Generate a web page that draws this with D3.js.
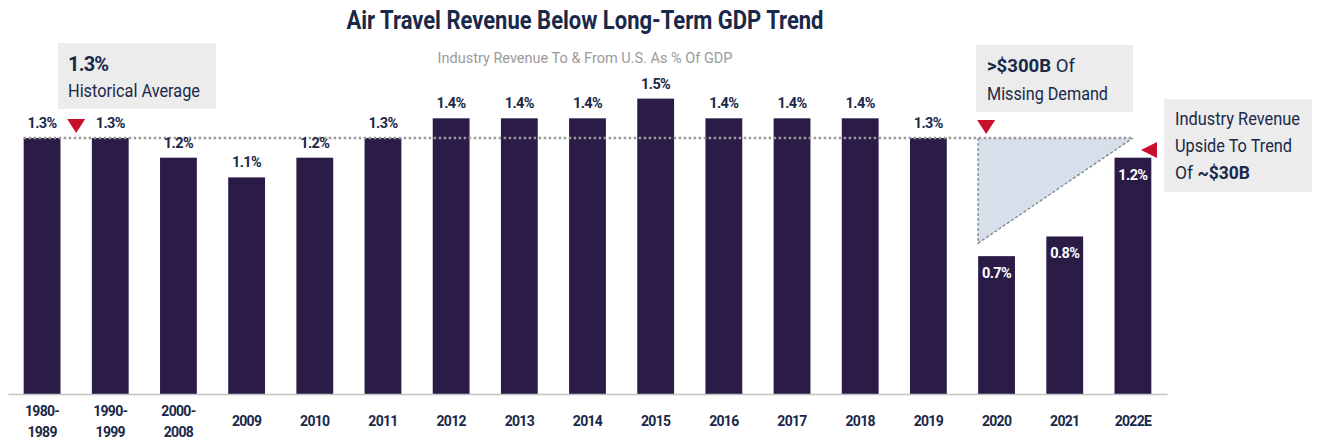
<!DOCTYPE html>
<html>
<head>
<meta charset="utf-8">
<script src="https://cdn.jsdelivr.net/npm/d3@7"></script>
<style>
  body { margin: 0; background: #fff; }
  svg { display: block; }
  text { font-family: Roboto, "Liberation Sans", sans-serif; }
</style>
</head>
<body>
<svg id="chart" width="1323" height="441"></svg>
<script>
// Air travel industry revenue to & from the U.S. as a share of GDP
const categories = ["1980-1989", "1990-1999", "2000-2008", "2009", "2010", "2011", "2012", "2013",
  "2014", "2015", "2016", "2017", "2018", "2019", "2020", "2021", "2022E"];
const tickLabels = [["1980-", "1989"], ["1990-", "1999"], ["2000-", "2008"], ["2009"], ["2010"], ["2011"],
  ["2012"], ["2013"], ["2014"], ["2015"], ["2016"], ["2017"], ["2018"], ["2019"], ["2020"], ["2021"], ["2022E"]];
const shareOfGdp = [1.3, 1.3, 1.2, 1.1, 1.2, 1.3, 1.4, 1.4, 1.4, 1.5, 1.4, 1.4, 1.4, 1.3, 0.7, 0.8, 1.2];
const valueLabels = ["1.3%", "1.3%", "1.2%", "1.1%", "1.2%", "1.3%", "1.4%", "1.4%", "1.4%", "1.5%",
  "1.4%", "1.4%", "1.4%", "1.3%", "0.7%", "0.8%", "1.2%"];
const labelInsideBar = ["2020", "2021", "2022E"];
const historicalAverage = 1.3;

const NAVY = "#1a2849";
const BAR = "#2a1b47";
const RED = "#c8102e";
const BOX = "#ececec";

const svg = d3.select("#chart");
const baseY = 394;

const x = d3.scaleBand()
  .domain(categories)
  .range([8, 1167])
  .paddingInner(0.46)
  .paddingOuter(0.23);

const y = d3.scaleLinear()
  .domain([0, historicalAverage])
  .range([baseY, 138]);

const data = categories.map((c, i) => ({ cat: c, value: shareOfGdp[i], label: valueLabels[i], ticks: tickLabels[i] }));

// Title and subtitle
svg.append("text")
  .attr("x", 585).attr("y", 29)
  .attr("text-anchor", "middle")
  .attr("font-size", 25).attr("font-weight", 700)
  .attr("fill", NAVY)
  .attr("textLength", 477).attr("lengthAdjust", "spacingAndGlyphs")
  .text("Air Travel Revenue Below Long-Term GDP Trend");

svg.append("text")
  .attr("x", 585).attr("y", 63)
  .attr("text-anchor", "middle")
  .attr("font-size", 15.5)
  .attr("fill", "#9a9a9a")
  .attr("textLength", 295).attr("lengthAdjust", "spacingAndGlyphs")
  .text("Industry Revenue To & From U.S. As % Of GDP");

// Bars
svg.append("g").selectAll("rect")
  .data(data)
  .join("rect")
  .attr("x", d => x(d.cat))
  .attr("y", d => y(d.value))
  .attr("width", x.bandwidth())
  .attr("height", d => baseY - y(d.value))
  .attr("fill", BAR);

// Missing-demand wedge between the trend and the recovery path
const wedgeLeft = x("2020");
const wedgeRight = x("2022E") + x.bandwidth() / 2;
const wedgeTop = y(historicalAverage);
const wedgeBottom = y(0.7) - 13;
svg.append("path")
  .attr("d", `M${wedgeLeft},${wedgeTop} L${wedgeRight},${wedgeTop} L${wedgeLeft},${wedgeBottom} Z`)
  .attr("fill", "#d7e0ea");
svg.append("path")
  .attr("d", `M${wedgeLeft},${wedgeTop} L${wedgeLeft},${wedgeBottom} L${wedgeRight},${wedgeTop}`)
  .attr("fill", "none")
  .attr("stroke", "#7f8894")
  .attr("stroke-width", 1.4)
  .attr("stroke-dasharray", "3,2");

// Historical average dotted line
svg.append("line")
  .attr("x1", x(categories[0])).attr("x2", wedgeRight)
  .attr("y1", y(historicalAverage)).attr("y2", y(historicalAverage))
  .attr("stroke", "#999999")
  .attr("stroke-width", 2.6)
  .attr("stroke-dasharray", "2.5,2.5");

// Value labels
svg.append("g").selectAll("text")
  .data(data)
  .join("text")
  .attr("x", d => x(d.cat) + x.bandwidth() / 2)
  .attr("y", d => labelInsideBar.includes(d.cat) ? y(d.value) + 22 : y(d.value) - 10)
  .attr("text-anchor", "middle")
  .attr("font-size", 14.5).attr("font-weight", 700)
  .attr("letter-spacing", -0.6)
  .attr("fill", d => labelInsideBar.includes(d.cat) ? "#ffffff" : NAVY)
  .text(d => d.label);

// X axis
const axis = svg.append("g")
  .attr("transform", `translate(0,${baseY})`)
  .call(d3.axisBottom(x).tickSize(0).tickSizeOuter(0).tickPadding(0));
axis.select(".domain").attr("stroke", "#c4c4c4").attr("stroke-width", 1.5);
axis.selectAll(".tick text").each(function (d) {
  const t = d3.select(this);
  const lines = tickLabels[categories.indexOf(d)];
  t.text(null).attr("y", null).attr("dy", null)
    .attr("font-size", 14).attr("font-weight", 700)
    .attr("letter-spacing", -0.7)
    .attr("fill", NAVY)
    .attr("font-family", "Roboto, 'Liberation Sans', sans-serif");
  if (lines.length === 1) {
    t.append("tspan").attr("x", 0).attr("y", 32).text(lines[0]);
  } else {
    t.append("tspan").attr("x", 0).attr("y", 22).text(lines[0]);
    t.append("tspan").attr("x", 0).attr("y", 43).text(lines[1]);
  }
});

// Red pointer markers
function downMarker(cx, top) {
  svg.append("path")
    .attr("d", `M${cx - 9},${top} L${cx + 9},${top} L${cx},${top + 14} Z`)
    .attr("fill", RED);
}
downMarker((x("1980-1989") + x.bandwidth() + x("1990-1999")) / 2, 119);
downMarker(wedgeLeft + 8, 120);
svg.append("path")
  .attr("d", `M1141,150 L1157,142 L1157,158 Z`)
  .attr("fill", RED);

// Annotation boxes
svg.append("rect").attr("x", 58).attr("y", 43).attr("width", 158).attr("height", 66).attr("fill", BOX);
svg.append("text").attr("x", 68).attr("y", 71)
  .attr("font-size", 20).attr("font-weight", 700).attr("fill", NAVY)
  .attr("letter-spacing", -0.8)
  .text("1.3%");
svg.append("text").attr("x", 68).attr("y", 97)
  .attr("font-size", 18.5).attr("fill", NAVY)
  .attr("textLength", 132).attr("lengthAdjust", "spacingAndGlyphs")
  .text("Historical Average");

svg.append("rect").attr("x", 976).attr("y", 45).attr("width", 157).attr("height", 67).attr("fill", BOX);
const t2 = svg.append("text").attr("x", 987).attr("y", 72)
  .attr("font-size", 18.5).attr("fill", NAVY)
  .attr("textLength", 88).attr("lengthAdjust", "spacingAndGlyphs");
t2.append("tspan").attr("font-weight", 700).text(">$300B");
t2.append("tspan").text(" Of");
svg.append("text").attr("x", 987).attr("y", 100)
  .attr("font-size", 18.5).attr("fill", NAVY)
  .attr("textLength", 121).attr("lengthAdjust", "spacingAndGlyphs")
  .text("Missing Demand");

svg.append("rect").attr("x", 1164).attr("y", 99).attr("width", 148).attr("height", 93).attr("fill", BOX);
svg.append("text").attr("x", 1175).attr("y", 125)
  .attr("font-size", 18.5).attr("fill", NAVY)
  .attr("textLength", 125).attr("lengthAdjust", "spacingAndGlyphs")
  .text("Industry Revenue");
svg.append("text").attr("x", 1175).attr("y", 152)
  .attr("font-size", 18.5).attr("fill", NAVY)
  .attr("textLength", 117).attr("lengthAdjust", "spacingAndGlyphs")
  .text("Upside To Trend");
const t3 = svg.append("text").attr("x", 1175).attr("y", 179)
  .attr("font-size", 18.5).attr("fill", NAVY)
  .attr("textLength", 75).attr("lengthAdjust", "spacingAndGlyphs");
t3.append("tspan").text("Of ");
t3.append("tspan").attr("font-weight", 700).text("~$30B");
</script>
</body>
</html>
